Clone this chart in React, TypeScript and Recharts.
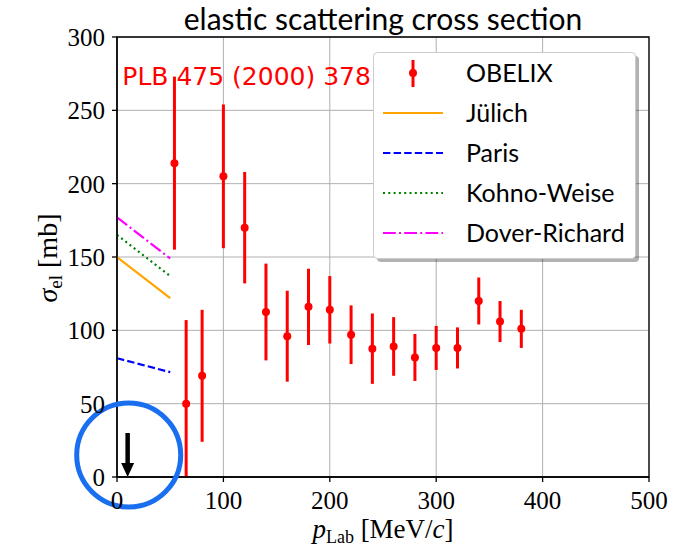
import React from 'react';
import {
  ComposedChart, Scatter, Line, XAxis, YAxis, CartesianGrid, ErrorBar,
  ReferenceDot, ReferenceArea, Legend, Label,
} from 'recharts';

// OBELIX data: momentum, cross section, lower / upper error (lower one cut at the axis)
const obelixP = [54, 65, 80, 100, 120, 140, 160, 180, 200, 220, 240, 260, 280, 300, 320, 340, 360, 380];
const obelixSigma = [214, 50, 69, 205, 170, 112.5, 96, 116, 114, 97, 87.5, 89, 81.5, 88, 88, 120, 106, 101];
const obelixErrLow = [59, 50, 45, 49, 38, 33, 31, 26, 23, 20, 24, 20, 16, 15, 14, 16, 14, 13];
const obelixErrHigh = [59, 57, 45, 49, 38, 33, 31, 26, 23, 20, 24, 20, 16, 15, 14, 16, 14, 13];

// theory curves
const theoryP = [0, 50];
const juelich = [150, 122];
const paris = [81, 71.5];
const kohnoWeise = [165, 137];
const doverRichard = [177, 149];

const xTicks = [0, 100, 200, 300, 400, 500];
const yTicks = [0, 50, 100, 150, 200, 250, 300];

const obelixData = obelixP.map((p, i) => ({ x: p, y: obelixSigma[i], err: [obelixErrLow[i], obelixErrHigh[i]] }));
const mk = (vals: number[]) => theoryP.map((p, i) => ({ x: p, y: vals[i] }));

const SANS = 'Lato, "DejaVu Sans", sans-serif';
const SERIF = '"Liberation Serif", "DejaVu Serif", serif';

const Dot = (props: any) => <circle cx={props.cx} cy={props.cy} r={4} fill="#ff0000" />;

const CircleMark = (props: any) => (
  <circle cx={props.cx} cy={props.cy} r={52} fill="none" stroke="#1a6ff0" strokeWidth={5} />
);

const ArrowMark = (props: any) => {
  const { cx, cy } = props;
  return (
    <g>
      <line x1={cx} y1={cy - 44} x2={cx} y2={cy - 12} stroke="#000" strokeWidth={4.5} />
      <polygon points={`${cx - 6.5},${cy - 14} ${cx + 6.5},${cy - 14} ${cx},${cy}`} fill="#000" />
    </g>
  );
};

const NoteMark = (props: any) => (
  <text x={props.cx} y={props.cy} fill="#ff0000" fontFamily='"DejaVu Sans", sans-serif' fontSize={25}>
    PLB 475 (2000) 378
  </text>
);

const legendItems = [
  { name: 'OBELIX', kind: 'err' },
  { name: 'Jülich', color: '#ffa500', dash: undefined },
  { name: 'Paris', color: '#0000ff', dash: '7.4 3.2' },
  { name: 'Kohno-Weise', color: '#008000', dash: '2 3.3' },
  { name: 'Dover-Richard', color: '#ff00ff', dash: '12.8 3.2 2 3.2' },
];

const LegendBox = () => (
  <svg width={272} height={216} style={{ overflow: 'visible', display: 'block' }}>
    <rect x={4} y={4} width={262} height={206} rx={4} fill="#000" fillOpacity={0.3} />
    <rect x={0.5} y={0.5} width={262} height={206} rx={4} fill="#fff" stroke="#cccccc" strokeWidth={1} />
    {legendItems.map((it: any, i) => {
      const y = 21 + i * 40;
      return (
        <g key={it.name}>
          {it.kind === 'err' ? (
            <g>
              <line x1={40} x2={40} y1={y - 13} y2={y + 14} stroke="#ff0000" strokeWidth={3} />
              <circle cx={40} cy={y} r={4} fill="#ff0000" />
            </g>
          ) : (
            <line x1={10} x2={70} y1={y} y2={y} stroke={it.color} strokeWidth={2.2} strokeDasharray={it.dash} />
          )}
          <text x={93} y={y} dy="0.36em" fontFamily={SANS} fontSize={25} fill="#000">{it.name}</text>
        </g>
      );
    })}
  </svg>
);

const XLabel = (props: any) => {
  const vb = props.viewBox || {};
  const cx = vb.x + vb.width / 2;
  return (
    <text x={cx} y={538} textAnchor="middle" fontFamily={SERIF} fontSize={27} fill="#000">
      <tspan fontStyle="italic">p</tspan>
      <tspan fontSize={18} dy={5}>Lab</tspan>
      <tspan dy={-5}> [MeV/</tspan>
      <tspan fontStyle="italic">c</tspan>
      <tspan>]</tspan>
    </text>
  );
};

const YLabel = () => {
  const x = 57;
  const y = 258;
  return (
    <text x={x} y={y} transform={`rotate(-90, ${x}, ${y})`} textAnchor="middle" fontFamily={SERIF} fontSize={28} fill="#000">
      <tspan fontStyle="italic">σ</tspan>
      <tspan fontSize={19} dy={5}>el</tspan>
      <tspan dy={-5}> [mb]</tspan>
    </text>
  );
};

export default function App() {
  return (
    <div style={{ position: 'absolute', left: 0, top: 0, width: 674, height: 550, background: '#fff' }}>
      <div style={{
        position: 'absolute', left: 0, top: 0, width: 766, height: 36, textAlign: 'center',
        fontFamily: SANS, fontSize: 30, lineHeight: '36px', color: '#000', zIndex: 2,
      }}>
        elastic scattering cross section
      </div>
      <ComposedChart width={674} height={550} margin={{ top: 37, right: 25, bottom: 13, left: 57 }}>
        <CartesianGrid stroke="#b0b0b0" strokeWidth={1} />
        <XAxis
          dataKey="x" type="number" domain={[0, 500]} ticks={xTicks} allowDataOverflow
          height={60} tickSize={5} tickMargin={9}
          axisLine={{ stroke: '#000', strokeWidth: 1.3 }} tickLine={{ stroke: '#000', strokeWidth: 1.3 }}
          tick={{ fontFamily: SERIF, fontSize: 25, fill: '#000' }}
        >
          <Label content={<XLabel />} />
        </XAxis>
        <YAxis
          type="number" domain={[0, 300]} ticks={yTicks} allowDataOverflow
          width={60} tickSize={5} tickMargin={7}
          axisLine={{ stroke: '#000', strokeWidth: 1.3 }} tickLine={{ stroke: '#000', strokeWidth: 1.3 }}
          tick={{ fontFamily: SERIF, fontSize: 25, fill: '#000' }}
        >
          <Label content={<YLabel />} />
        </YAxis>
        <ReferenceArea x1={0} x2={500} y1={0} y2={300} fill="none" stroke="#000" strokeWidth={1.3} ifOverflow="visible" />
        <Line data={mk(juelich)} dataKey="y" stroke="#ffa500" strokeWidth={2.2} dot={false} isAnimationActive={false} legendType="none" />
        <Line data={mk(paris)} dataKey="y" stroke="#0000ff" strokeWidth={2.2} strokeDasharray="7.4 3.2" dot={false} isAnimationActive={false} legendType="none" />
        <Line data={mk(kohnoWeise)} dataKey="y" stroke="#008000" strokeWidth={2.2} strokeDasharray="2 3.3" dot={false} isAnimationActive={false} legendType="none" />
        <Line data={mk(doverRichard)} dataKey="y" stroke="#ff00ff" strokeWidth={2.2} strokeDasharray="12.8 3.2 2 3.2" dot={false} isAnimationActive={false} legendType="none" />
        <Scatter data={obelixData} dataKey="y" shape={<Dot />} isAnimationActive={false}>
          <ErrorBar dataKey="err" direction="y" width={0} stroke="#ff0000" strokeWidth={3} isAnimationActive={false} />
        </Scatter>
        <ReferenceDot x={5} y={267} shape={<NoteMark />} ifOverflow="visible" />
        <ReferenceDot x={11} y={15} shape={<CircleMark />} ifOverflow="visible" />
        <ReferenceDot x={10} y={0} shape={<ArrowMark />} ifOverflow="visible" />
        <Legend
          layout="horizontal" verticalAlign="middle" align="center"
          content={<LegendBox />}
          wrapperStyle={{ position: 'absolute', left: 373, top: 52, width: 272, height: 216 }}
        />
      </ComposedChart>
    </div>
  );
}
